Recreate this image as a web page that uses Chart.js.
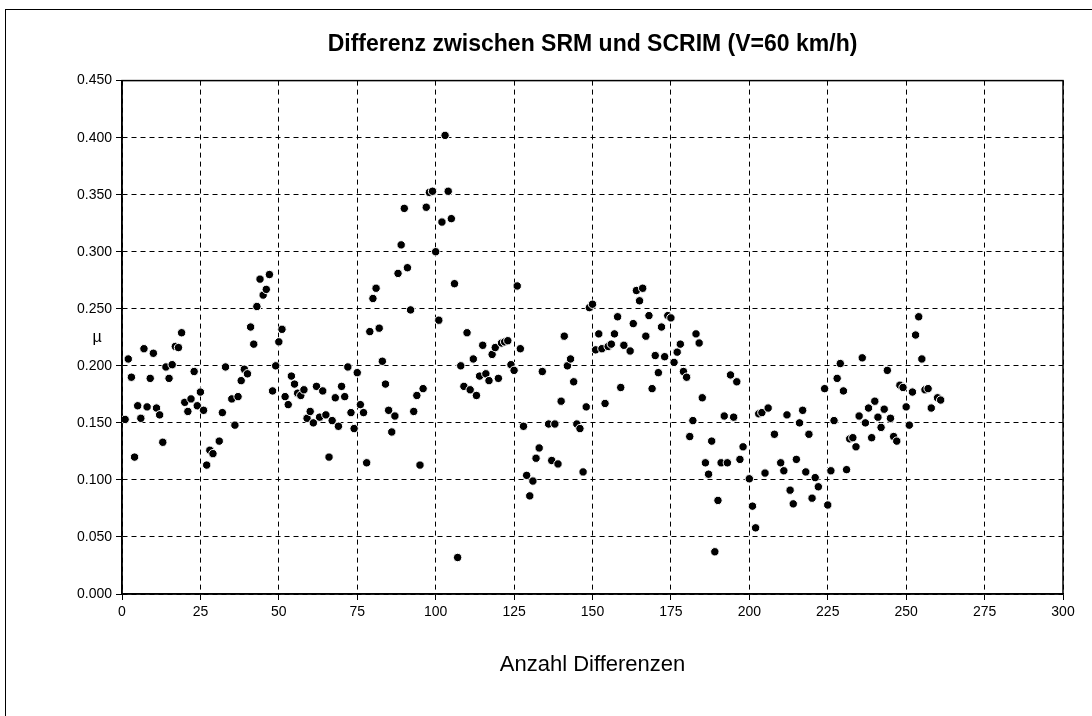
<!DOCTYPE html>
<html>
<head>
<meta charset="utf-8">
<script src="https://cdn.jsdelivr.net/npm/chart.js@4"></script>
<style>
html, body { margin: 0; padding: 0; background: #fff; }
canvas { display: block; }
</style>
</head>
<body>
<canvas id="grafico" width="1092" height="716"></canvas>
<script>
// Texte
const titel = 'Differenz zwischen SRM und SCRIM (V=60 km/h)';
const xTitel = 'Anzahl Differenzen';
const yTitel = 'µ';

// Achsenteilung
const xTicks = [0, 25, 50, 75, 100, 125, 150, 175, 200, 225, 250, 275, 300];
const yTicks = [0, 0.05, 0.1, 0.15, 0.2, 0.25, 0.3, 0.35, 0.4, 0.45];

const nr = [
  1, 2, 3, 4, 5, 6, 7, 8, 9, 10, 11, 12, 13, 14, 15, 16, 17, 18, 19, 20,
  21, 22, 23, 24, 25, 26, 27, 28, 29, 31, 32, 33, 35, 36, 37, 38, 39, 40, 41, 42,
  43, 44, 45, 46, 47, 48, 49, 50, 51, 52, 53, 54, 55, 56, 57, 58, 59, 60, 61, 62,
  63, 64, 65, 66, 67, 68, 69, 70, 71, 72, 73, 74, 75, 76, 77, 78, 79, 80, 81, 82,
  83, 84, 85, 86, 87, 88, 89, 90, 91, 92, 93, 94, 95, 96, 97, 98, 99, 100, 101, 102,
  103, 104, 105, 106, 107, 108, 109, 110, 111, 112, 113, 114, 115, 116, 117, 118, 119, 120, 121, 122,
  123, 124, 125, 126, 127, 128, 129, 130, 131, 132, 133, 134, 136, 137, 138, 139, 140, 141, 142, 143,
  144, 145, 146, 147, 148, 149, 150, 151, 152, 153, 154, 155, 156, 157, 158, 159, 160, 162, 163, 164,
  165, 166, 167, 168, 169, 170, 171, 172, 173, 174, 175, 176, 177, 178, 179, 180, 181, 182, 183, 184,
  185, 186, 187, 188, 189, 190, 191, 192, 193, 194, 195, 196, 197, 198, 200, 201, 202, 203, 204, 205,
  206, 208, 210, 211, 212, 213, 214, 215, 216, 217, 218, 219, 220, 221, 222, 224, 225, 226, 227, 228,
  229, 230, 231, 232, 233, 234, 235, 236, 237, 238, 239, 240, 241, 242, 243, 244, 245, 246, 247, 248,
  249, 250, 251, 252, 253, 254, 255, 256, 257, 258, 260, 261
];
const mu = [
  0.153, 0.206, 0.190, 0.120, 0.165, 0.154, 0.215, 0.164, 0.189, 0.211, 0.163, 0.157, 0.133, 0.199, 0.189, 0.201, 0.217, 0.216, 0.229, 0.168,
  0.160, 0.171, 0.195, 0.165, 0.177, 0.161, 0.113, 0.126, 0.123, 0.134, 0.159, 0.199, 0.171, 0.148, 0.173, 0.187, 0.197, 0.193, 0.234, 0.219,
  0.252, 0.276, 0.262, 0.267, 0.280, 0.178, 0.200, 0.221, 0.232, 0.173, 0.166, 0.191, 0.184, 0.176, 0.174, 0.179, 0.154, 0.160, 0.150, 0.182,
  0.155, 0.178, 0.157, 0.120, 0.152, 0.172, 0.147, 0.182, 0.173, 0.199, 0.159, 0.145, 0.194, 0.166, 0.159, 0.115, 0.230, 0.259, 0.268, 0.233,
  0.204, 0.184, 0.161, 0.142, 0.156, 0.281, 0.306, 0.338, 0.286, 0.249, 0.160, 0.174, 0.113, 0.180, 0.339, 0.352, 0.353, 0.300, 0.240, 0.326,
  0.402, 0.353, 0.329, 0.272, 0.032, 0.200, 0.182, 0.229, 0.179, 0.206, 0.174, 0.191, 0.218, 0.193, 0.187, 0.210, 0.216, 0.189, 0.220, 0.221,
  0.222, 0.201, 0.196, 0.270, 0.215, 0.147, 0.104, 0.086, 0.099, 0.119, 0.128, 0.195, 0.149, 0.117, 0.149, 0.114, 0.169, 0.226, 0.200, 0.206,
  0.186, 0.149, 0.145, 0.107, 0.164, 0.251, 0.254, 0.214, 0.228, 0.215, 0.167, 0.217, 0.219, 0.228, 0.243, 0.181, 0.218, 0.213, 0.237, 0.266,
  0.257, 0.268, 0.226, 0.244, 0.180, 0.209, 0.194, 0.234, 0.208, 0.244, 0.242, 0.203, 0.212, 0.219, 0.195, 0.190, 0.138, 0.152, 0.228, 0.220,
  0.172, 0.115, 0.105, 0.134, 0.037, 0.082, 0.115, 0.156, 0.115, 0.192, 0.155, 0.186, 0.118, 0.129, 0.101, 0.077, 0.058, 0.158, 0.159, 0.106,
  0.163, 0.140, 0.115, 0.108, 0.157, 0.091, 0.079, 0.118, 0.150, 0.161, 0.107, 0.140, 0.084, 0.102, 0.094, 0.180, 0.078, 0.108, 0.152, 0.189,
  0.202, 0.178, 0.109, 0.136, 0.137, 0.129, 0.156, 0.207, 0.150, 0.163, 0.137, 0.169, 0.155, 0.146, 0.162, 0.196, 0.154, 0.138, 0.134, 0.183,
  0.181, 0.164, 0.148, 0.177, 0.227, 0.243, 0.206, 0.179, 0.180, 0.163, 0.172, 0.170
];

const schrift = '"Liberation Sans", Arial, Helvetica, sans-serif';

// Rahmen, Diagrammrand und µ-Beschriftung
const rahmen = {
  id: 'rahmen',
  beforeDraw(chart) {
    const ctx = chart.ctx;
    ctx.save();
    ctx.fillStyle = '#fff';
    ctx.fillRect(0, 0, chart.width, chart.height);
    ctx.strokeStyle = '#000';
    ctx.lineWidth = 1;
    ctx.strokeRect(5.5, 9.5, chart.width + 20, chart.height + 20);
    ctx.restore();
  },
  beforeDatasetsDraw(chart) {
    const a = chart.chartArea;
    const ctx = chart.ctx;
    ctx.save();
    ctx.strokeStyle = '#000';
    ctx.lineWidth = 1.5;
    ctx.strokeRect(a.left, a.top, a.right - a.left, a.bottom - a.top);
    ctx.restore();
  },
  afterDraw(chart) {
    const a = chart.chartArea;
    const ctx = chart.ctx;
    ctx.save();
    ctx.fillStyle = '#000';
    ctx.font = '16px ' + schrift;
    ctx.textAlign = 'center';
    ctx.textBaseline = 'middle';
    ctx.fillText(yTitel, 97, (a.top + a.bottom) / 2);
    ctx.restore();
  }
};

const punkte = nr.map((x, i) => ({ x: x, y: mu[i] }));

new Chart(document.getElementById('grafico'), {
  type: 'scatter',
  data: {
    datasets: [{
      data: punkte,
      backgroundColor: '#000',
      borderColor: '#fff',
      borderWidth: 1,
      pointRadius: 4.2,
      pointHoverRadius: 4.2
    }]
  },
  options: {
    responsive: false,
    animation: false,
    devicePixelRatio: 1,
    layout: { padding: { left: 0, right: 29, top: 0, bottom: 0 } },
    plugins: {
      legend: { display: false },
      tooltip: { enabled: false },
      title: {
        display: true,
        text: titel,
        fullSize: false,
        color: '#000',
        font: { family: schrift, size: 23, weight: 'bold' },
        padding: { top: 31, bottom: 22 }
      }
    },
    scales: {
      x: {
        type: 'linear',
        min: 0,
        max: 300,
        afterFit(s) { s.height = 122; },
        afterBuildTicks(s) { s.ticks = xTicks.map(v => ({ value: v })); },
        ticks: {
          color: '#000',
          font: { family: schrift, size: 14 },
          padding: 4,
          maxRotation: 0,
          callback: v => String(v)
        },
        grid: { color: '#000', lineWidth: 1, tickLength: 6, tickColor: '#000' },
        border: { display: true, color: '#000', width: 1.5, dash: [5, 4] },
        title: {
          display: true,
          text: xTitel,
          color: '#000',
          font: { family: schrift, size: 22 },
          padding: { top: 0, bottom: 38 }
        }
      },
      y: {
        type: 'linear',
        min: 0,
        max: 0.45,
        afterFit(s) { s.width = 122; },
        afterBuildTicks(s) { s.ticks = yTicks.map(v => ({ value: v })); },
        ticks: {
          color: '#000',
          font: { family: schrift, size: 14 },
          padding: 4,
          callback: v => v.toFixed(3)
        },
        grid: { color: '#000', lineWidth: 1, tickLength: 6, tickColor: '#000' },
        border: { display: true, color: '#000', width: 1.5, dash: [5, 4] }
      }
    }
  },
  plugins: [rahmen]
});
</script>
</body>
</html>
